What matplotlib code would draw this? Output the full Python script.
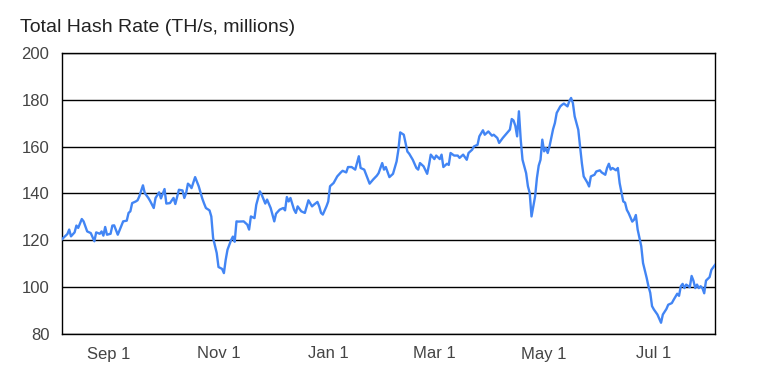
import numpy as np
import matplotlib
matplotlib.use('Agg')
import matplotlib.pyplot as plt

plt.rcParams['font.family'] = ['Liberation Sans', 'DejaVu Sans']

## data (days after start date, hash rate in millions TH/s)
start_date = np.datetime64('2020-08-06')
days = [0, 2, 3, 4, 5, 7, 8, 9, 11, 12, 14, 16, 18, 19, 21, 22, 23, 24, 25, 27,
        28, 29, 31, 34, 36, 37, 38, 39, 41, 42, 43, 45, 46, 48, 49, 51, 52, 54, 55, 57,
        58, 60, 62, 63, 65, 67, 68, 69, 70, 71, 72, 74, 76, 78, 79, 80, 82, 83, 84, 86,
        87, 89, 90, 91, 92, 94, 95, 96, 97, 98, 101, 103, 104, 105, 107, 108, 110, 111, 113, 114,
        116, 118, 119, 121, 123, 124, 125, 126, 127, 129, 130, 131, 133, 135, 137, 139, 140, 142, 143, 144,
        145, 147, 148, 149, 151, 153, 155, 156, 158, 159, 161, 163, 165, 166, 168, 171, 173, 175, 176, 178,
        179, 180, 182, 184, 186, 187, 188, 190, 192, 193, 195, 197, 198, 199, 201, 203, 204, 205, 207, 208,
        210, 211, 212, 214, 215, 216, 218, 220, 221, 223, 225, 226, 228, 229, 231, 232, 234, 235, 237, 239,
        240, 242, 243, 245, 247, 249, 250, 251, 252, 253, 254, 255, 256, 258, 259, 260, 261, 263, 264, 265,
        266, 267, 268, 269, 270, 271, 273, 274, 275, 277, 278, 279, 281, 282, 283, 284, 285, 287, 288, 289,
        290, 292, 293, 294, 296, 297, 299, 300, 302, 303, 304, 305, 306, 308, 309, 310, 312, 313, 314, 315,
        317, 318, 319, 320, 322, 323, 325, 326, 327, 328, 329, 331, 333, 334, 336, 337, 339, 340, 342, 343,
        344, 345, 346, 347, 349, 350, 351, 352, 353, 354, 355, 356, 357, 358, 360, 361, 363]
hash_rate = [120.5, 122.0, 122.7, 124.6, 121.7, 123.4, 126.3, 125.3, 129.1, 128.1, 123.8, 123.1, 119.6, 123.4, 122.8, 123.8, 122.0, 125.7, 122.4, 122.8,
             126.3, 126.4, 122.4, 128.1, 128.4, 131.7, 132.4, 135.9, 136.6, 137.1, 138.8, 143.5, 140.2, 138.1, 136.8, 133.8, 138.1, 140.5, 137.9, 141.9,
             135.7, 135.9, 138.1, 135.5, 141.6, 141.3, 138.1, 140.2, 144.2, 143.5, 142.3, 147.0, 143.1, 137.8, 135.7, 133.8, 132.8, 130.2, 121.0, 114.6,
             108.6, 107.8, 106.0, 111.7, 116.0, 120.1, 121.6, 119.4, 128.1, 128.0, 128.1, 126.7, 124.6, 130.2, 129.5, 135.2, 140.9, 139.5, 135.7, 137.4,
             133.8, 128.1, 131.4, 133.1, 133.8, 132.8, 138.5, 136.6, 138.1, 133.1, 131.7, 134.5, 132.4, 131.7, 137.1, 134.5, 135.2, 136.4, 134.5, 131.7,
             131.0, 134.5, 136.6, 143.1, 144.5, 147.3, 149.0, 149.7, 149.0, 151.3, 151.3, 150.2, 155.9, 150.9, 150.2, 144.2, 146.0, 147.6, 148.7, 153.0,
             150.2, 151.3, 147.0, 148.4, 153.7, 158.7, 166.1, 165.1, 157.9, 157.0, 154.4, 150.9, 150.2, 153.0, 151.6, 148.4, 152.2, 156.6, 154.7, 156.2,
             154.7, 156.6, 151.3, 152.7, 152.2, 157.3, 156.2, 156.2, 155.2, 156.6, 154.4, 157.3, 158.7, 160.1, 160.8, 164.4, 167.0, 165.1, 166.5, 164.7,
             165.1, 163.7, 161.6, 163.7, 165.5, 167.3, 171.8, 171.2, 168.9, 164.4, 175.1, 163.0, 154.4, 148.7, 143.1, 140.2, 130.2, 138.8, 146.6, 151.9,
             154.4, 163.0, 158.0, 159.4, 157.3, 160.1, 167.5, 170.1, 174.4, 177.2, 177.9, 178.4, 177.2, 179.4, 180.8, 178.6, 172.9, 167.2, 160.1, 152.9,
             147.3, 144.7, 143.0, 147.3, 148.0, 149.4, 149.9, 149.0, 148.0, 150.9, 152.7, 150.2, 150.9, 149.9, 150.9, 144.4, 136.6, 136.1, 133.0, 131.6,
             128.0, 128.8, 130.8, 124.6, 117.5, 110.3, 104.0, 100.4, 97.6, 91.9, 90.5, 88.3, 84.8, 88.3, 90.7, 92.5, 93.2, 94.6, 97.2, 96.3,
             100.4, 101.4, 99.6, 101.1, 100.0, 104.8, 102.8, 99.6, 101.1, 99.6, 100.4, 99.6, 97.4, 102.8, 104.3, 107.4, 109.5]
tick_dates = ['2020-09-01', '2020-11-01', '2021-01-01', '2021-03-01', '2021-05-01', '2021-07-01']
tick_labels = ['Sep 1', 'Nov 1', 'Jan 1', 'Mar 1', 'May 1', 'Jul 1']
y_ticks = [80, 100, 120, 140, 160, 180, 200]

dates = start_date + np.array(days).astype('timedelta64[D]')

fig = plt.figure(figsize=(7.7, 3.71), dpi=100)
ax = fig.add_axes([62 / 770, 37 / 371, 653 / 770, 281 / 371])

ax.plot(dates, hash_rate, color='#4285f4', linewidth=1.7, zorder=3)

ax.set_xlim(start_date, start_date + np.timedelta64(363, 'D'))
ax.set_ylim(80, 200)
ax.set_yticks(y_ticks)
ax.set_xticks(np.array(tick_dates, dtype='datetime64[D]'))
ax.set_xticklabels(tick_labels)
ax.grid(axis='y', color='black', linewidth=1)
ax.set_axisbelow(True)
for s in ax.spines.values():
    s.set_color('black')
    s.set_linewidth(1)
ax.tick_params(length=0, labelsize=12, labelcolor='#444444')
ax.tick_params(axis='y', pad=9)
ax.tick_params(axis='x', pad=9)

fig.text(20 / 770, 1 - 28 / 371, 'Total Hash Rate (TH/s, millions)', fontsize=14,
         color='#222222', va='center', ha='left')

fig.savefig('out.png', dpi=100)
